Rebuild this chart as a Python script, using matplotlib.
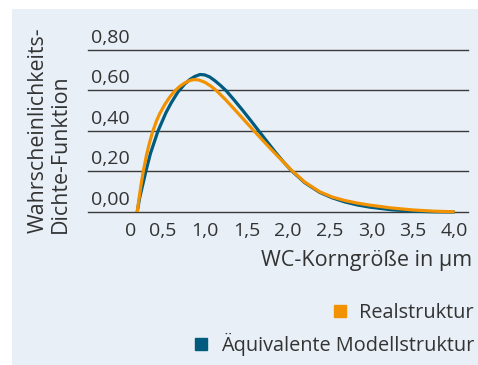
import numpy as np
import matplotlib
matplotlib.use("Agg")
import matplotlib.pyplot as plt
import matplotlib.transforms as mtransforms
from matplotlib.patches import Rectangle
from matplotlib.lines import Line2D

plt.rcParams["font.family"] = ["Open Sans", "DejaVu Sans"]

# Korngrößenverteilung (Wahrscheinlichkeitsdichte) der WC-Körner
x_real = [0.19, 0.21, 0.235, 0.263, 0.30, 0.34, 0.375, 0.42, 0.46, 0.52, 0.58, 0.64,
          0.70, 0.76, 0.82, 0.87, 0.93, 1.00, 1.07, 1.14, 1.25, 1.36, 1.47, 1.58,
          1.69, 1.79, 1.90, 2.04, 2.20, 2.38, 2.53, 2.68, 2.83, 2.98, 3.24, 3.50,
          3.75, 4.00]
y_real = [0.000, 0.060, 0.130, 0.200, 0.277, 0.345, 0.395, 0.448, 0.485, 0.530,
          0.567, 0.597, 0.620, 0.637, 0.649, 0.654, 0.652, 0.641, 0.623, 0.600,
          0.555, 0.506, 0.456, 0.406, 0.357, 0.313, 0.266, 0.207, 0.148, 0.100,
          0.074, 0.057, 0.044, 0.034, 0.020, 0.010, 0.004, 0.001]

x_modell = [0.19, 0.22, 0.26, 0.30, 0.35, 0.44, 0.535, 0.60, 0.68, 0.76, 0.825,
            0.88, 0.944, 1.00, 1.06, 1.124, 1.19, 1.26, 1.36, 1.46, 1.56, 1.65,
            1.75, 1.845, 1.94, 2.04, 2.20, 2.38, 2.53, 2.68, 2.83, 2.98, 3.24,
            3.50, 3.75, 4.00]
y_modell = [0.000, 0.070, 0.140, 0.210, 0.290, 0.400, 0.490, 0.540, 0.593, 0.632,
            0.655, 0.669, 0.679, 0.677, 0.667, 0.648, 0.625, 0.598, 0.550, 0.500,
            0.448, 0.400, 0.347, 0.297, 0.250, 0.205, 0.145, 0.097, 0.070, 0.050,
            0.035, 0.024, 0.011, 0.004, 0.001, 0.000]

x_ticks = [0, 0.5, 1.0, 1.5, 2.0, 2.5, 3.0, 3.5, 4.0]
y_ticks = [0.0, 0.2, 0.4, 0.6, 0.8]

orange = "#f39200"
blue = "#005b7f"
text_col = "#333333"

W, H = 478, 365
fig = plt.figure(figsize=(W / 100, H / 100), dpi=100)
fig.patches.append(Rectangle((12 / W, 0), 1, 1 - 9 / H, transform=fig.transFigure,
                             facecolor="#e8eff6", edgecolor="none", zorder=-1))

ax = fig.add_axes([88 / W, 1 - 212 / H, 380 / W, 162 / H])
ax.set_facecolor("none")
ax.set_xlim(-0.40, 4.16)
ax.set_ylim(0, 0.8)

ax.plot(x_modell, y_modell, color=blue, lw=2.3, clip_on=False, zorder=3,
        solid_capstyle="butt", solid_joinstyle="round")
ax.plot(x_real, y_real, color=orange, lw=2.3, clip_on=False, zorder=4,
        solid_capstyle="butt", solid_joinstyle="round")

for s in ax.spines.values():
    s.set_visible(False)

ax.set_yticks(y_ticks)
ax.set_yticklabels([f"{v:.2f}".replace(".", ",") for v in y_ticks])
ax.set_xticks(x_ticks)
ax.set_xticklabels(["0" if v == 0 else f"{v:.1f}".replace(".", ",") for v in x_ticks])
ax.tick_params(axis="both", length=0, labelsize=14, labelcolor=text_col)
ax.tick_params(axis="y", pad=-2)
ax.tick_params(axis="x", pad=7)

# y labels stand on their grid lines
up = mtransforms.ScaledTranslation(0, 3 / 100, fig.dpi_scale_trans)
for lbl in ax.get_yticklabels():
    lbl.set_ha("left")
    lbl.set_va("bottom")
    lbl.set_transform(lbl.get_transform() + up)

# "0" sits a bit to the right, close to the curve start
xl0 = ax.get_xticklabels()[0]
xl0.set_transform(xl0.get_transform() +
                  mtransforms.ScaledTranslation(9 / 100, 0, fig.dpi_scale_trans))

ax.grid(axis="y", color="#3a3a3a", lw=1.0)
for gl in ax.get_ygridlines():
    gl.set_clip_on(False)

fig.text(472 / W, 1 - 266 / H, "WC-Korngröße in µm", ha="right", va="baseline",
         fontsize=15.5, color=text_col)
fig.text(49 / W, 1 - 233 / H, "Wahrscheinlichkeits-\nDichte-Funktion", rotation=90,
         ha="center", va="bottom", multialignment="left", fontsize=15.4,
         color=text_col, linespacing=1.05)

# legend entries, right aligned
def entry(label, color, y):
    h = Line2D([], [], ls="none", marker="s", markersize=8.6, color=color)
    leg = fig.legend(handles=[h], labels=[label], loc="center right",
                     bbox_to_anchor=(474 / W, 1 - y / H), frameon=False,
                     fontsize=14.3, handlelength=0.65, handletextpad=0.65,
                     borderpad=0, borderaxespad=0, labelcolor=text_col)
    return leg

entry("Realstruktur", orange, 313)
entry("Äquivalente Modellstruktur", blue, 344)

fig.savefig("out.png", dpi=100)
